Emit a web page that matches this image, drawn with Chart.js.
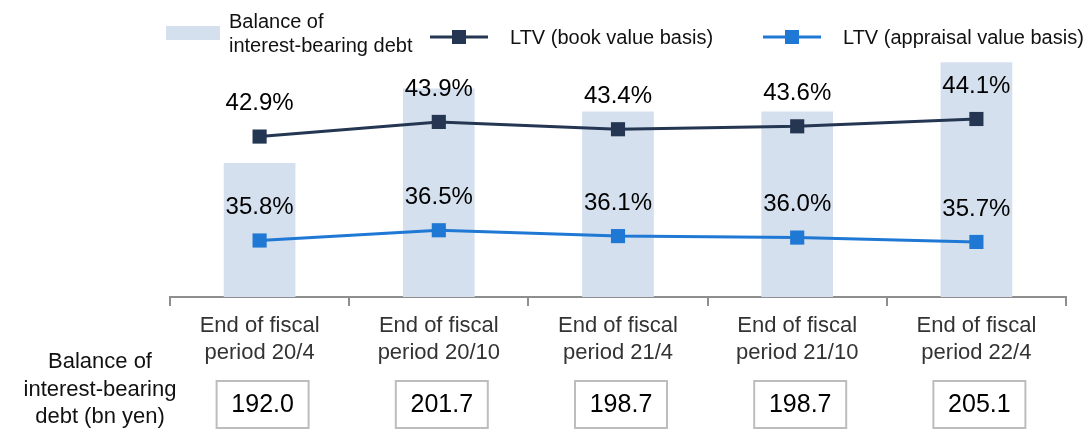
<!DOCTYPE html>
<html>
<head>
<meta charset="utf-8">
<script src="https://cdn.jsdelivr.net/npm/chart.js@4/dist/chart.umd.min.js"></script>
<style>
  html, body { margin: 0; padding: 0; background: #fff; }
  canvas { display: block; }
</style>
</head>
<body>
<canvas id="ltv" width="1088" height="430"></canvas>
<script>
const periods = [
  ['End of fiscal', 'period 20/4'],
  ['End of fiscal', 'period 20/10'],
  ['End of fiscal', 'period 21/4'],
  ['End of fiscal', 'period 21/10'],
  ['End of fiscal', 'period 22/4']
];
const debtBalance = [192.0, 201.7, 198.7, 198.7, 205.1];
const ltvBook = [42.9, 43.9, 43.4, 43.6, 44.1];
const ltvAppraisal = [35.8, 36.5, 36.1, 36.0, 35.7];
const tableLabel = ['Balance of', 'interest-bearing', 'debt (bn yen)'];

const FONT = "'Liberation Sans', Arial, sans-serif";
const BAR_COLOR = '#d5e0ef';
const BOOK_COLOR = '#243652';
const APPR_COLOR = '#1f78d4';
const AXIS_GRAY = '#8e8e8e';

// percent labels above the line markers
const pointLabels = {
  id: 'pointLabels',
  afterDatasetsDraw(chart) {
    const ctx = chart.ctx;
    ctx.save();
    ctx.font = '24px ' + FONT;
    ctx.fillStyle = '#000';
    ctx.textAlign = 'center';
    ctx.textBaseline = 'middle';
    chart.data.datasets.forEach((ds, di) => {
      if (ds.type !== 'line') return;
      chart.getDatasetMeta(di).data.forEach((pt, i) => {
        ctx.fillText(ds.data[i].toFixed(1) + '%', pt.x, pt.y - 33);
      });
    });
    ctx.restore();
  }
};

// boxed debt values under the axis + row caption
const debtTable = {
  id: 'debtTable',
  afterDraw(chart) {
    const ctx = chart.ctx;
    const x = chart.scales.x;
    ctx.save();
    ctx.font = '22px ' + FONT;
    ctx.fillStyle = '#111';
    ctx.textAlign = 'center';
    ctx.textBaseline = 'middle';
    tableLabel.forEach((t, i) => ctx.fillText(t, 100, 362 + i * 27.5));

    ctx.font = '25px ' + FONT;
    ctx.strokeStyle = '#bdbdbd';
    ctx.lineWidth = 2;
    debtBalance.forEach((v, i) => {
      const cx = x.getPixelForValue(i) + 3;
      ctx.strokeRect(cx - 46, 381, 92, 47);
      ctx.fillStyle = '#000';
      ctx.fillText(v.toFixed(1), cx, 405);
    });
    ctx.restore();
  }
};

const customLegend = {
  id: 'customLegend',
  afterDraw(chart) {
    const ctx = chart.ctx;
    ctx.save();
    ctx.font = '20px ' + FONT;
    ctx.fillStyle = '#111';
    ctx.textBaseline = 'middle';

    ctx.fillStyle = BAR_COLOR;
    ctx.fillRect(166, 26, 54, 14);
    ctx.fillStyle = '#111';
    ctx.fillText('Balance of', 229, 22);
    ctx.fillText('interest-bearing debt', 229, 46);

    [[430, BOOK_COLOR, 'LTV (book value basis)'],
     [763, APPR_COLOR, 'LTV (appraisal value basis)']].forEach(([lx, col, txt]) => {
      ctx.strokeStyle = col;
      ctx.lineWidth = 3;
      ctx.beginPath();
      ctx.moveTo(lx, 37);
      ctx.lineTo(lx + 58, 37);
      ctx.stroke();
      ctx.fillStyle = col;
      ctx.fillRect(lx + 22, 30, 14, 14);
      ctx.fillStyle = '#111';
      ctx.fillText(txt, lx + 80, 38);
    });
    ctx.restore();
  }
};

new Chart(document.getElementById('ltv'), {
  data: {
    labels: periods,
    datasets: [
      {
        type: 'line',
        label: 'LTV (book value basis)',
        data: ltvBook,
        yAxisID: 'yLtv',
        borderColor: BOOK_COLOR,
        backgroundColor: BOOK_COLOR,
        borderWidth: 3,
        pointStyle: 'rect',
        pointRadius: 10,
        pointBorderWidth: 0,
        order: 1
      },
      {
        type: 'line',
        label: 'LTV (appraisal value basis)',
        data: ltvAppraisal,
        yAxisID: 'yLtv',
        borderColor: APPR_COLOR,
        backgroundColor: APPR_COLOR,
        borderWidth: 3,
        pointStyle: 'rect',
        pointRadius: 10,
        pointBorderWidth: 0,
        order: 1
      },
      {
        type: 'bar',
        label: 'Balance of interest-bearing debt',
        data: debtBalance,
        yAxisID: 'yDebt',
        backgroundColor: BAR_COLOR,
        categoryPercentage: 1,
        barPercentage: 0.4,
        order: 2
      }
    ]
  },
  options: {
    responsive: false,
    animation: false,
    layout: { padding: { left: 170, right: 22, top: 60, bottom: 63 } },
    plugins: {
      legend: { display: false },
      tooltip: { enabled: false }
    },
    scales: {
      x: {
        offset: true,
        afterFit: (scale) => { scale.height = 70; },
        grid: {
          offset: true,
          drawOnChartArea: false,
          drawTicks: true,
          tickLength: 9,
          tickColor: AXIS_GRAY,
          lineWidth: 2
        },
        border: { display: true, color: AXIS_GRAY, width: 2 },
        ticks: {
          padding: 7,
          maxRotation: 0,
          color: '#333',
          font: { family: FONT, size: 22, lineHeight: 1.2 }
        }
      },
      yDebt: { display: false, min: 174.6, max: 205.4 },
      yLtv: { display: false, position: 'right', min: 31.94, max: 48.13 }
    }
  },
  plugins: [pointLabels, debtTable, customLegend]
});
</script>
</body>
</html>
